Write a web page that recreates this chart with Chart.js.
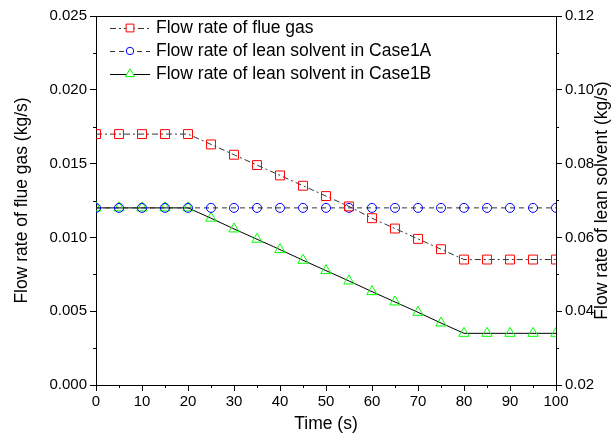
<!DOCTYPE html>
<html lang="en">
<head>
  <meta charset="UTF-8">
  <title>Flow rates</title>
  <style>
    html, body { margin: 0; padding: 0; background: #fff; }
    #wrap { width: 614px; height: 439px; }
  </style>
</head>
<body>
  <div id="wrap">
    <canvas id="myChart" width="614" height="439"></canvas>
  </div>

  <script src="https://cdn.jsdelivr.net/npm/chart.js"></script>

  <script>
    // data
    const timeS = [0, 5, 10, 15, 20, 25, 30, 35, 40, 45, 50, 55, 60, 65, 70, 75, 80, 85, 90, 95, 100];
    const flueGas = [0.017, 0.017, 0.017, 0.017, 0.017, 0.0163, 0.0156, 0.0149, 0.0142, 0.0135, 0.0128,
                     0.0121, 0.0113, 0.0106, 0.0099, 0.0092, 0.0085, 0.0085, 0.0085, 0.0085, 0.0085];
    const leanCase1A = [0.068, 0.068, 0.068, 0.068, 0.068, 0.068, 0.068, 0.068, 0.068, 0.068, 0.068,
                        0.068, 0.068, 0.068, 0.068, 0.068, 0.068, 0.068, 0.068, 0.068, 0.068];
    const leanCase1B = [0.068, 0.068, 0.068, 0.068, 0.068, 0.0652, 0.0623, 0.0595, 0.0567, 0.0538, 0.051,
                        0.0482, 0.0453, 0.0425, 0.0397, 0.0368, 0.034, 0.034, 0.034, 0.034, 0.034];
    const seriesLabels = ['Flow rate of flue gas', 'Flow rate of lean solvent in Case1A', 'Flow rate of lean solvent in Case1B'];
    const xTitle = 'Time (s)';
    const yLeftTitle = 'Flow rate of flue gas (kg/s)';
    const yRightTitle = 'Flow rate of lean solvent (kg/s)';

    const FONT = 'Arial, "Liberation Sans", Helvetica, sans-serif';
    const ctx = document.getElementById('myChart').getContext('2d');

    function toPoints(ys) {
      return timeS.map((t, i) => ({ x: t, y: ys[i] }));
    }

    function vTitle(c, text, x, y) {
      c.save();
      c.translate(x, y);
      c.rotate(-Math.PI / 2);
      c.textAlign = 'center';
      c.textBaseline = 'middle';
      c.fillText(text, 0, 0);
      c.restore();
    }

    // outward minor ticks, top border, axis titles and in-plot legend
    const framePlugin = {
      id: 'frame',
      afterDraw(chart) {
        const c = chart.ctx;
        const a = chart.chartArea;
        const sx = chart.scales.x, yl = chart.scales.y, yr = chart.scales.y2;
        c.save();
        c.strokeStyle = '#000';
        c.lineWidth = 1;
        c.beginPath();
        c.moveTo(a.left, Math.round(a.top) + 0.5);
        c.lineTo(a.right, Math.round(a.top) + 0.5);
        for (let v = 5; v < 100; v += 10) {
          const px = Math.round(sx.getPixelForValue(v)) + 0.5;
          c.moveTo(px, a.bottom); c.lineTo(px, a.bottom + 3);
        }
        for (let v = 0.0025; v < 0.025; v += 0.005) {
          const py = Math.round(yl.getPixelForValue(v)) + 0.5;
          c.moveTo(a.left, py); c.lineTo(a.left - 3, py);
        }
        for (let v = 0.03; v < 0.12; v += 0.02) {
          const py = Math.round(yr.getPixelForValue(v)) + 0.5;
          c.moveTo(a.right, py); c.lineTo(a.right + 3, py);
        }
        c.stroke();

        c.fillStyle = '#000';
        c.font = '17.5px ' + FONT;
        const midY = (a.top + a.bottom) / 2;
        vTitle(c, yLeftTitle, 22, midY);
        vTitle(c, yRightTitle, 602, midY);

        // legend
        c.font = '17.5px ' + FONT;
        c.textBaseline = 'middle';
        c.textAlign = 'left';
        chart.data.datasets.forEach((ds, i) => {
          const y = 28 + i * 23;
          const x0 = 110, x1 = 150, xm = 130;
          c.save();
          c.strokeStyle = ds.borderColor;
          c.lineWidth = 1;
          c.setLineDash(ds.borderDash || []);
          c.beginPath();
          c.moveTo(x0, y + 0.5); c.lineTo(x1, y + 0.5);
          c.stroke();
          c.restore();
          c.save();
          c.strokeStyle = ds.pointBorderColor;
          c.fillStyle = '#fff';
          c.lineWidth = 1;
          c.setLineDash([]);
          Chart.helpers.drawPoint(c, {
            pointStyle: ds.pointStyle, radius: ds.pointRadius - 0.8, borderWidth: 1, rotation: 0
          }, xm, y);
          c.restore();
          c.fillStyle = '#000';
          c.fillText(ds.label, 156, y);
        });
        c.restore();
      }
    };

    new Chart(ctx, {
      type: 'line',
      data: {
        datasets: [
          {
            label: seriesLabels[0],
            data: toPoints(flueGas),
            yAxisID: 'y',
            borderColor: '#333',
            borderWidth: 1,
            borderDash: [6, 3, 2, 3],
            pointStyle: 'rect',
            pointRadius: 6.3,
            pointBorderColor: '#ff0000',
            pointBackgroundColor: 'rgba(0,0,0,0)',
            pointBorderWidth: 1
          },
          {
            label: seriesLabels[1],
            data: toPoints(leanCase1A),
            yAxisID: 'y2',
            borderColor: '#333',
            borderWidth: 1,
            borderDash: [5, 4],
            pointStyle: 'circle',
            pointRadius: 4.5,
            pointBorderColor: '#0000ff',
            pointBackgroundColor: 'rgba(0,0,0,0)',
            pointBorderWidth: 1
          },
          {
            label: seriesLabels[2],
            data: toPoints(leanCase1B),
            yAxisID: 'y2',
            borderColor: '#000',
            borderWidth: 1,
            borderDash: [],
            pointStyle: 'triangle',
            pointRadius: 6,
            pointBorderColor: '#00ff00',
            pointBackgroundColor: 'rgba(0,0,0,0)',
            pointBorderWidth: 1
          }
        ]
      },
      options: {
        responsive: false,
        animation: false,
        layout: { padding: { top: 16, left: 0, right: 0, bottom: 0 } },
        plugins: {
          legend: { display: false },
          tooltip: { enabled: false }
        },
        scales: {
          x: {
            type: 'linear',
            min: 0, max: 100,
            grid: { drawOnChartArea: false, tickLength: 6, color: '#000', tickColor: '#000' },
            border: { color: '#000', width: 1 },
            ticks: { stepSize: 10, color: '#000', font: { family: FONT, size: 15 }, padding: 2, maxRotation: 0 },
            title: { display: true, text: xTitle, color: '#000', font: { family: FONT, size: 17.5 }, padding: { top: 6 } },
            afterFit(s) { s.height = 439 - 385; }
          },
          y: {
            position: 'left',
            min: 0, max: 0.025,
            grid: { drawOnChartArea: false, tickLength: 6, color: '#000', tickColor: '#000' },
            border: { color: '#000', width: 1 },
            ticks: { stepSize: 0.005, color: '#000', font: { family: FONT, size: 15 }, padding: 3,
              callback: v => v.toFixed(3) },
            title: { display: false },
            afterFit(s) { s.width = 96; }
          },
          y2: {
            position: 'right',
            min: 0.02, max: 0.12,
            grid: { drawOnChartArea: false, tickLength: 6, color: '#000', tickColor: '#000' },
            border: { color: '#000', width: 1 },
            ticks: { stepSize: 0.02, color: '#000', font: { family: FONT, size: 15 }, padding: 3,
              callback: v => v.toFixed(2) },
            title: { display: false },
            afterFit(s) { s.width = 614 - 556; }
          }
        }
      },
      plugins: [framePlugin]
    });
  </script>
</body>
</html>
